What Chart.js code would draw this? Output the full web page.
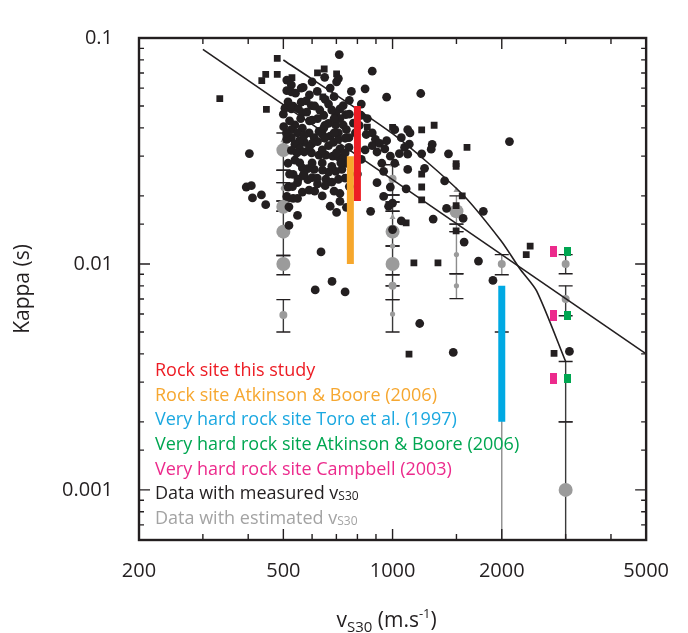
<!DOCTYPE html>
<html>
<head>
<meta charset="utf-8">
<script src="https://cdn.jsdelivr.net/npm/chart.js@4.4.0/dist/chart.umd.min.js"></script>
<style>
  html, body { margin: 0; padding: 0; background: #fff; }
  #wrap { width: 688px; height: 633px; }
</style>
</head>
<body>
<div id="wrap"><canvas id="kappaChart" width="688" height="633"></canvas></div>
<script>
const FONT = '"Open Sans", "Noto Sans", sans-serif';
const INK = '#231f20';
const GRAY = '#9b9b9b';

// axis labels
const xTickLabels = [200, 500, 1000, 2000, 5000];
const yTickLabels = ['0.001', '0.01', '0.1'];

// measured vs30 - circles [vs30, kappa]
const measuredCircles = [
  [713, 0.0845], [879, 0.0713], [963, 0.0547], [511, 0.0651], [526, 0.062], [567, 0.0604],
  [511, 0.0585], [526, 0.0577], [673, 0.060], [701, 0.064], [709, 0.0661], [840, 0.0596],
  [515, 0.0522], [532, 0.0499], [505, 0.0489], [526, 0.0486], [550, 0.0486], [578, 0.0527],
  [597, 0.0502], [652, 0.0535], [666, 0.051], [731, 0.0502], [716, 0.0486], [743, 0.0458],
  [697, 0.0462], [646, 0.0455], [621, 0.044], [600, 0.0433], [564, 0.0467], [558, 0.044],
  [538, 0.0412], [501, 0.0405], [526, 0.0393], [564, 0.0399], [547, 0.038], [526, 0.0362],
  [589, 0.038], [608, 0.0362], [627, 0.0386], [646, 0.0399], [666, 0.0419], [697, 0.0412],
  [716, 0.044], [731, 0.0412], [746, 0.0393], [709, 0.038], [673, 0.0368], [641, 0.0374],
  [621, 0.0348], [600, 0.0342], [571, 0.0345], [554, 0.0351], [538, 0.0339], [511, 0.0356],
  [526, 0.0318], [554, 0.0323], [571, 0.0313], [598, 0.031], [627, 0.0303], [655, 0.0303],
  [684, 0.030], [709, 0.0298], [731, 0.0293], [716, 0.0323], [666, 0.0334], [687, 0.0345],
  [709, 0.0356], [758, 0.0362], [758, 0.0328], [746, 0.0279], [725, 0.0262], [697, 0.0257],
  [666, 0.0255], [641, 0.026], [608, 0.0262], [584, 0.0264], [564, 0.0266], [538, 0.0288],
  [515, 0.0279], [532, 0.0249], [549, 0.0237], [567, 0.0246], [584, 0.0236], [600, 0.0241],
  [621, 0.0226], [655, 0.0237], [709, 0.0237], [547, 0.0229], [515, 0.0219], [511, 0.0199],
  [532, 0.0195], [547, 0.0195], [564, 0.0208], [589, 0.0212], [652, 0.0222], [716, 0.0205],
  [395, 0.0219], [408, 0.0222], [411, 0.0196], [435, 0.0202], [447, 0.0183], [403, 0.0308],
  [846, 0.0374], [879, 0.038], [897, 0.0356], [879, 0.0334], [921, 0.0342], [952, 0.0323],
  [906, 0.0313], [963, 0.0351], [934, 0.0279], [986, 0.030], [1044, 0.0308], [1014, 0.0393],
  [1079, 0.0328], [1057, 0.0362], [1101, 0.0393], [1112, 0.0339], [1101, 0.0306], [945, 0.0257],
  [906, 0.0229], [870, 0.0171], [986, 0.0219], [1014, 0.0279], [945, 0.0199], [975, 0.018],
  [1101, 0.0262], [1090, 0.0215], [818, 0.0455], [852, 0.044], [673, 0.018], [701, 0.0169],
  [716, 0.0189], [746, 0.0178],
  [1196, 0.0568], [1117, 0.038], [1286, 0.0338], [1278, 0.0322], [1203, 0.0307], [1426, 0.0307],
  [1225, 0.0265], [1392, 0.0233], [1409, 0.0176], [1779, 0.0171], [2100, 0.0348],
  [518, 0.0179], [547, 0.0164], [518, 0.0148], [635, 0.0113], [612, 0.00767], [681, 0.00837],
  [740, 0.00752], [1000, 0.0186], [1057, 0.0155], [1000, 0.0142],
  [1294, 0.0158], [1565, 0.0159], [1575, 0.0125], [1725, 0.0103], [1891, 0.00845],
  [1188, 0.00545], [1470, 0.00406], [3073, 0.0041],
  [540, 0.057], [590, 0.056], [620, 0.058], [690, 0.055], [760, 0.053], [560, 0.052],
  [610, 0.050], [680, 0.048], [500, 0.046], [580, 0.047], [630, 0.048], [760, 0.046],
  [520, 0.043], [590, 0.043], [650, 0.041], [690, 0.044], [780, 0.042], [510, 0.038],
  [570, 0.037], [650, 0.036], [690, 0.038], [740, 0.036], [545, 0.031],
  [590, 0.033], [640, 0.032], [700, 0.031], [740, 0.031], [555, 0.028],
  [600, 0.028], [640, 0.028], [680, 0.027], [720, 0.028], [520, 0.025], [570, 0.025],
  [620, 0.024], [680, 0.023], [740, 0.024], [530, 0.022], [610, 0.021], [640, 0.020],
  [690, 0.021], [760, 0.022], [800, 0.025], [820, 0.029], [840, 0.032], [790, 0.038],
  [810, 0.041], [560, 0.060], [600, 0.064], [650, 0.067], [770, 0.058], [820, 0.051]
];

// measured vs30 - squares
const measuredSquares = [
  [481, 0.0812], [447, 0.069], [436, 0.0647], [481, 0.069], [528, 0.0668], [334, 0.0539],
  [449, 0.0483], [621, 0.0701], [648, 0.0729], [701, 0.0694], [642, 0.0549], [852, 0.0403],
  [1000, 0.0402], [1203, 0.0392], [1302, 0.0411], [1604, 0.0328], [1497, 0.0278], [1497, 0.027],
  [1203, 0.025], [1203, 0.0219], [1203, 0.0192], [1556, 0.02], [1497, 0.0181], [1090, 0.0152],
  [1497, 0.014], [1145, 0.0101], [1334, 0.0101], [2395, 0.012], [2336, 0.011], [1110, 0.00399],
  [2787, 0.00402]
];

// estimated vs30 (grey)
const estimatedLarge = [
  [500, 0.0319], [500, 0.0179], [500, 0.0139], [500, 0.01], [1000, 0.0139], [1000, 0.01],
  [1500, 0.0171], [3000, 0.001]
];
const estimatedMedium = [
  [1000, 0.0238], [2000, 0.01], [3000, 0.01], [3000, 0.007], [500, 0.00595], [1000, 0.008]
];
const estimatedSmall = [
  [500, 0.0216], [1000, 0.012], [1000, 0.006], [1500, 0.011], [1500, 0.008]
];
const estimatedTriangles = [[500, 0.0352], [1000, 0.0275], [1000, 0.0161], [1500, 0.0212]];

// error bars [vs30, low, high]
const errorBars = [
  [500, 0.026, 0.038], [500, 0.0229, 0.026], [500, 0.019, 0.0229], [500, 0.0171, 0.019],
  [500, 0.0109, 0.0171], [500, 0.00896, 0.0109], [500, 0.005, 0.00695],
  [1000, 0.0202, 0.0275], [1000, 0.0188, 0.0202], [1000, 0.0171, 0.0188], [1000, 0.012, 0.0171],
  [1000, 0.00896, 0.012], [1000, 0.008, 0.00896], [1000, 0.00695, 0.008], [1000, 0.005, 0.00695],
  [1500, 0.015, 0.02], [1500, 0.0139, 0.015], [1500, 0.00905, 0.0139], [1500, 0.00702, 0.00905],
  [2000, 0.00896, 0.011], [2000, 0.0003, 0.005],
  [3000, 0.00905, 0.011], [3000, 0.0059, 0.008], [3000, 0.002, 0.0037], [3000, 0.0003, 0.002]
];

// reference kappa values
const rockThisStudy = [[800, 0.05], [800, 0.019]];
const rockAtkinsonBoore = [[765, 0.03], [765, 0.01]];
const hardRockToro = [[2000, 0.008], [2000, 0.002]];
const hardRockAtkinsonBoore = [[3030, 0.0114], [3030, 0.0059], [3030, 0.0031]];
const hardRockCampbell = [[2770, 0.0114], [2770, 0.0059], [2770, 0.0031]];

// regression line and model curve
const fitLine = [[300, 0.089], [5000, 0.004]];
const modelCurve = [
  [500, 0.0799], [1000, 0.0377], [1546, 0.0206], [1988, 0.0127], [2246, 0.0095],
  [2495, 0.0076], [3000, 0.0037]
];

const legendLabels = [
  'Rock site this study',
  'Rock site Atkinson & Boore (2006)',
  'Very hard rock site Toro et al. (1997)',
  'Very hard rock site Atkinson & Boore (2006)',
  'Very hard rock site Campbell (2003)',
  'Data with measured v',
  'Data with estimated v'
];
const legendSubs = ['', '', '', '', '', 'S30', 'S30'];
const legendColors = ['#ed1c24', '#f6a730', '#1ba8e0', '#00a651', '#ec2a8c', INK, '#a3a3a3'];

const toXY = (pairs) => pairs.map(([x, y]) => ({ x, y }));
const isXLabel = (v) => xTickLabels.some((t) => Math.abs(t - v) < 1e-6 * t);
const yLabelFor = (v) => yTickLabels.find((t) => Math.abs(Number(t) - v) < 1e-6 * v);

function makeRect(color, w, h) {
  const c = document.createElement('canvas');
  c.width = w;
  c.height = h;
  const g = c.getContext('2d');
  g.fillStyle = color;
  g.fillRect(0, 0, w, h);
  return c;
}

function pointSet(pairs, color, radius, style, order) {
  return {
    data: toXY(pairs),
    pointStyle: style,
    pointRadius: radius,
    pointBackgroundColor: color,
    pointBorderWidth: 0,
    showLine: false,
    order
  };
}

function barSet(pairs, color) {
  return {
    data: toXY(pairs),
    showLine: true,
    borderColor: color,
    borderWidth: 7,
    borderCapStyle: 'butt',
    pointRadius: 0,
    order: 1
  };
}

function lineSet(pairs, tension) {
  return {
    data: toXY(pairs),
    showLine: true,
    borderColor: INK,
    borderWidth: 1.6,
    tension,
    pointRadius: 0,
    order: 3
  };
}

// draws text runs with sub/superscripts
function drawRuns(ctx, runs, x, y, align) {
  let total = 0;
  runs.forEach((r) => {
    ctx.font = `${r.size}px ${FONT}`;
    r.w = ctx.measureText(r.t).width;
    total += r.w;
  });
  let cx = align === 'center' ? x - total / 2 : x;
  ctx.textAlign = 'left';
  ctx.textBaseline = 'alphabetic';
  runs.forEach((r) => {
    ctx.font = `${r.size}px ${FONT}`;
    ctx.fillText(r.t, cx, y + (r.dy || 0));
    cx += r.w;
  });
}

const errorBarPlugin = {
  id: 'errorBars',
  beforeDatasetsDraw(chart) {
    const { ctx, chartArea: a, scales: { x, y } } = chart;
    ctx.save();
    ctx.beginPath();
    ctx.rect(a.left, a.top, a.right - a.left, a.bottom - a.top);
    ctx.clip();
    ctx.lineWidth = 1.4;
    errorBars.forEach(([xv, lo, hi]) => {
      const px = x.getPixelForValue(xv);
      const yLo = y.getPixelForValue(lo);
      const yHi = y.getPixelForValue(hi);
      const faint = xv === 1500 || xv === 2000;
      ctx.strokeStyle = faint ? '#8c8c8c' : '#3a3a3a';
      ctx.beginPath();
      ctx.moveTo(px, yLo);
      ctx.lineTo(px, yHi);
      ctx.stroke();
      ctx.strokeStyle = INK;
      ctx.beginPath();
      [yLo, yHi].forEach((py) => {
        ctx.moveTo(px - 7, py);
        ctx.lineTo(px + 7, py);
      });
      ctx.stroke();
    });
    ctx.restore();
  }
};

const framePlugin = {
  id: 'frame',
  afterDatasetsDraw(chart) {
    const { ctx, chartArea: a, scales: { x, y } } = chart;
    ctx.save();
    ctx.strokeStyle = INK;

    // inward tick marks on all four sides
    ctx.lineWidth = 1.4;
    ctx.beginPath();
    x.ticks.forEach((t) => {
      const px = x.getPixelForValue(t.value);
      const len = isXLabel(t.value) ? 11 : 6;
      ctx.moveTo(px, a.bottom);
      ctx.lineTo(px, a.bottom - len);
      ctx.moveTo(px, a.top);
      ctx.lineTo(px, a.top + len);
    });
    y.ticks.forEach((t) => {
      const py = y.getPixelForValue(t.value);
      const len = yLabelFor(t.value) ? 11 : 5;
      ctx.moveTo(a.left, py);
      ctx.lineTo(a.left + len, py);
      ctx.moveTo(a.right, py);
      ctx.lineTo(a.right - len, py);
    });
    ctx.stroke();

    ctx.lineWidth = 2.4;
    ctx.strokeRect(a.left, a.top, a.right - a.left, a.bottom - a.top);

    // legend text
    legendLabels.forEach((label, i) => {
      ctx.fillStyle = legendColors[i];
      const runs = [{ t: label, size: 18 }];
      if (legendSubs[i]) runs.push({ t: legendSubs[i], size: 12, dy: 1 });
      drawRuns(ctx, runs, a.left + 16, 376 + i * 24.65, 'left');
    });

    // axis titles
    ctx.fillStyle = INK;
    drawRuns(ctx, [
      { t: 'v', size: 21 },
      { t: 'S30', size: 15, dy: 5 },
      { t: ' (m.s', size: 21 },
      { t: '-1', size: 13, dy: -9 },
      { t: ')', size: 21 }
    ], (a.left + a.right) / 2 - 6, 627, 'center');

    ctx.translate(23, (a.top + a.bottom) / 2);
    ctx.rotate(-Math.PI / 2);
    ctx.font = `21px ${FONT}`;
    ctx.textAlign = 'center';
    ctx.textBaseline = 'middle';
    ctx.fillText('Kappa (s)', 0, 0);
    ctx.restore();
  }
};

new Chart(document.getElementById('kappaChart'), {
  type: 'scatter',
  data: {
    datasets: [
      barSet(rockThisStudy, '#ed1c24'),
      barSet(rockAtkinsonBoore, '#f6a72c'),
      barSet(hardRockToro, '#00a9e3'),
      pointSet(hardRockAtkinsonBoore, '#00a651', 5, makeRect('#00a651', 7, 9), 2),
      pointSet(hardRockCampbell, '#ec2a8c', 5, makeRect('#ec2a8c', 7, 11), 2),
      lineSet(fitLine, 0),
      lineSet(modelCurve, 0.25),
      pointSet(measuredCircles, INK, 4.4, 'circle', 4),
      pointSet(measuredSquares, INK, 4.8, 'rect', 4),
      pointSet(estimatedTriangles, GRAY, 3.5, 'triangle', 6),
      pointSet(estimatedLarge, GRAY, 7, 'circle', 6),
      pointSet(estimatedMedium, GRAY, 4, 'circle', 6),
      pointSet(estimatedSmall, GRAY, 2.6, 'circle', 6)
    ]
  },
  options: {
    responsive: false,
    animation: false,
    devicePixelRatio: 1,
    layout: { padding: { top: 16, right: 25, bottom: 0, left: 0 } },
    plugins: { legend: { display: false }, tooltip: { enabled: false } },
    scales: {
      x: {
        type: 'logarithmic',
        position: 'bottom',
        min: 200,
        max: 5000,
        grid: { display: false, drawTicks: false },
        border: { display: false },
        ticks: {
          autoSkip: false,
          maxRotation: 0,
          padding: 19,
          color: INK,
          font: { family: FONT, size: 20 },
          callback: (v) => (isXLabel(v) ? String(Math.round(v)) : '')
        },
        afterFit: (s) => { s.height = 93; }
      },
      y: {
        type: 'logarithmic',
        position: 'left',
        min: 0.0006,
        max: 0.1,
        grid: { display: false, drawTicks: false },
        border: { display: false },
        ticks: {
          autoSkip: false,
          padding: 26,
          color: INK,
          font: { family: FONT, size: 20 },
          callback: (v) => yLabelFor(v) || ''
        },
        afterFit: (s) => { s.width = 139; }
      }
    }
  },
  plugins: [errorBarPlugin, framePlugin]
});
</script>
</body>
</html>
